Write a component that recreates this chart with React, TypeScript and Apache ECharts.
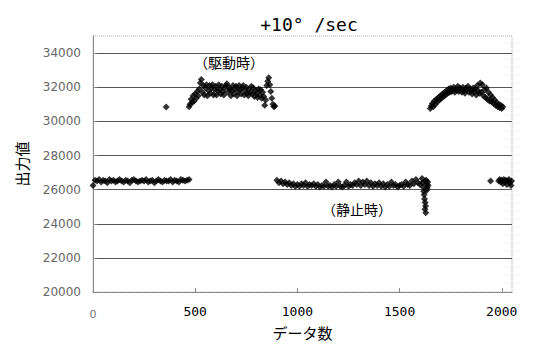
import React, { useEffect, useRef } from "react";
import * as echarts from "echarts";

// x = sample index (データ数), y = output value (出力値)
const idle1Start = 0;
const idle1Step = 10;
const idle1Values = [
  26250, 26550, 26500, 26600, 26450, 26550, 26500, 26400, 26600, 26500,
  26550, 26450, 26500, 26600, 26500, 26450, 26550, 26500, 26400, 26550,
  26600, 26500, 26450, 26500, 26550, 26500, 26600, 26450, 26500, 26550,
  26400, 26500, 26600, 26500, 26450, 26550, 26500, 26500, 26600, 26450,
  26550, 26500, 26450, 26600, 26550, 26500, 26550, 26600,
];

const strayPoints: [number, number][] = [[358, 30840], [1945, 26500]];

const drive1Start = 470;
const drive1Step = 5;
const drive1Values = [
  30850, 31000, 31300, 31100, 31500, 31200, 31600, 31350, 31750, 31500,
  31900, 32250, 32450, 31700, 32100, 31550, 31950, 32150,
  31500, 31800, 32100, 31650, 31950, 32150, 31550, 31850,
  32050, 31550, 31800, 32150, 31850, 31600, 32050, 31750,
  31550, 31950, 32100, 32200, 31700, 32000, 31850, 31500,
  31800, 32100, 31600, 31900, 32050, 31500, 31750, 32100,
  31850, 31600, 31950, 32100, 31550, 31800, 32000, 31650,
  31500, 31900, 31700, 32050, 31600, 31950, 31450, 31800,
  31650, 31400, 31900, 31550, 31850, 31350, 31700, 31450,
  30950, 31250, 32100, 32350, 32550, 32150, 31750, 31350, 31000, 30850, 30900,
];

const idle2Start = 900;
const idle2Step = 10;
const idle2Values = [
  26550, 26400, 26500, 26350, 26450, 26300, 26400, 26250, 26350, 26200,
  26300, 26200, 26350, 26250, 26400, 26200, 26300, 26250, 26350, 26200,
  26300, 26150, 26250, 26200, 26450, 26200, 26250, 26150, 26300, 26200,
  26450, 26200, 26150, 26250, 26450, 26200, 26300, 26250, 26400, 26300,
  26500, 26250, 26450, 26300, 26500, 26250, 26400, 26200, 26350, 26250,
  26400, 26200, 26350, 26150, 26300, 26200, 26450, 26250, 26300, 26150,
  26250, 26300, 26200, 26450, 26300, 26250, 26500, 26350, 26600, 26400,
  26300,
];

const spikePoints: [number, number][] = [
  [1610, 26650], [1612, 26400], [1615, 26150], [1618, 25900], [1620, 25700],
  [1622, 25450], [1625, 25250], [1627, 25050], [1624, 24850], [1628, 24650],
  [1630, 26550], [1633, 26300], [1635, 26100], [1632, 25950], [1626, 26500],
  [1638, 26450], [1640, 26250],
];

const drive2Start = 1650;
const drive2Step = 5;
const drive2Values = [
  30750, 30900, 31050, 30850, 31200, 31000, 31300, 31150, 31400, 31250,
  31500, 31350, 31600, 31450, 31700, 31550, 31800, 31650, 31900, 31700,
  31950, 31750, 31850, 32000, 31700, 31900, 31800, 32050, 31750, 31950,
  31850, 31700, 32000, 31800, 31650, 31950, 31850, 32050, 31700, 31900,
  31800, 31600, 31950, 31750, 31900, 31550, 32100, 31800, 31650, 32250,
  31700, 32150, 31500, 31850, 31400, 31950, 31300, 31700, 31200, 31550,
  31150, 31400, 31050, 31250, 30950, 31100, 30850, 31000, 30800, 30950,
  30750, 30850,
];

const idle3Points: [number, number][] = [
  [1985, 26500], [1990, 26600], [1995, 26450], [2000, 26550], [2005, 26350],
  [2010, 26600], [2015, 26450], [2020, 26550], [2025, 26300], [2030, 26500],
  [2035, 26600], [2040, 26400], [2045, 26250], [2048, 26500],
];

const titleText = "+10° /sec";
const xName = "データ数";
const yName = "出力値";
const driveLabel = "（駆動時）";
const idleLabel = "（静止時）";

function seq(start: number, step: number, vals: number[]): [number, number][] {
  return vals.map((v, i) => [start + i * step, v]);
}

export default function App() {
  const ref = useRef<HTMLDivElement>(null);
  useEffect(() => {
    if (!ref.current) return;
    const chart = echarts.init(ref.current, null, { renderer: "svg" });
    const data = [
      ...seq(idle1Start, idle1Step, idle1Values),
      ...strayPoints,
      ...seq(drive1Start, drive1Step, drive1Values),
      ...seq(idle2Start, idle2Step, idle2Values),
      ...spikePoints,
      ...seq(drive2Start, drive2Step, drive2Values),
      ...idle3Points,
    ];
    const jp = "'Noto Sans CJK JP', sans-serif";
    chart.setOption({
      animation: false,
      backgroundColor: "#fff",
      title: {
        text: titleText,
        left: 304,
        textAlign: "center",
        top: 10,
        textStyle: { fontSize: 18, fontWeight: "normal", color: "#000", fontFamily: "'DejaVu Sans Mono', monospace" },
      },
      grid: {
        left: 93,
        right: 27,
        top: 36,
        bottom: 48,
        show: true,
        borderColor: "#aaa",
        borderWidth: 1,
        borderType: "dotted",
      },
      xAxis: {
        type: "value",
        min: 0,
        max: 2050,
        interval: 500,
        name: xName,
        nameLocation: "middle",
        nameGap: 32,
        nameTextStyle: { fontSize: 15, color: "#000", fontFamily: jp },
        axisLine: { show: true, lineStyle: { color: "#888" } },
        axisTick: { show: true, inside: true, length: 4, lineStyle: { color: "#888" } },
        splitLine: { show: false },
        axisLabel: {
          showMaxLabel: false,
          margin: 13,
          formatter: (v: number) => (v === 0 ? "{z|0}" : "{b|" + v + "}"),
          rich: {
            z: { color: "#777", fontSize: 11, fontFamily: "DejaVu Sans", padding: [4, 0, 0, 0] },
            b: { color: "#000", fontSize: 13, fontFamily: "DejaVu Sans Mono" },
          },
        },
      },
      yAxis: {
        type: "value",
        min: 20000,
        max: 35000,
        interval: 2000,
        name: yName,
        nameLocation: "middle",
        nameGap: 64,
        nameTextStyle: { fontSize: 15, color: "#000", fontFamily: jp },
        axisLine: { show: true, lineStyle: { color: "#888" } },
        axisTick: { show: true, inside: true, length: 4, lineStyle: { color: "#888" } },
        axisLabel: {
          showMaxLabel: false,
          color: "#666",
          fontSize: 12,
          margin: 12,
          fontFamily: "DejaVu Sans",
          formatter: (v: number) => String(v),
        },
        splitLine: { show: true, showMaxLine: false, lineStyle: { color: "#555", width: 1 } },
      },
      graphic: [
        {
          type: "text",
          x: 229,
          y: 62,
          style: {
            text: driveLabel,
            fontSize: 14,
            fontFamily: jp,
            fill: "#000",
            align: "center",
            verticalAlign: "middle",
          },
        },
        {
          type: "text",
          x: 357,
          y: 209,
          style: {
            text: idleLabel,
            fontSize: 14,
            fontFamily: jp,
            fill: "#000",
            align: "center",
            verticalAlign: "middle",
          },
        },
      ],
      series: [
        {
          type: "scatter",
          data,
          symbol: "diamond",
          symbolSize: 7,
          itemStyle: { color: "#000" },
        },
      ],
    });
    return () => chart.dispose();
  }, []);
  return (
    <div
      ref={ref}
      style={{ position: "absolute", left: 0, top: 0, width: 539, height: 345 }}
    />
  );
}
